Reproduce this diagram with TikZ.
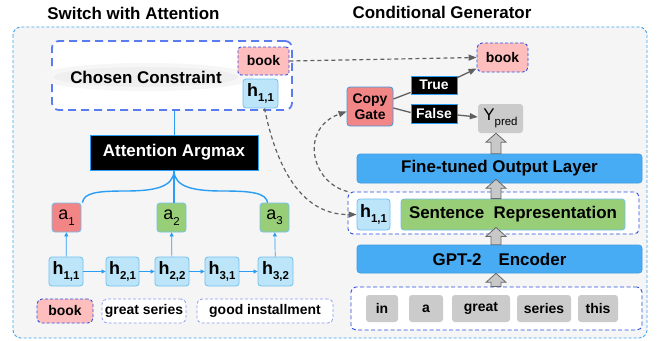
\documentclass[tikz,border=0pt]{standalone}
\usepackage{fontspec}
\setmainfont{Liberation Sans}
\usetikzlibrary{arrows.meta,calc}
\definecolor{outerblue}{HTML}{3DA5F0}
\definecolor{ccblue}{HTML}{5B7BF0}
\definecolor{darkdash}{HTML}{2B4FE0}
\definecolor{lightdash}{HTML}{8A9CF0}
\definecolor{pinkfill}{HTML}{FFBEBE}
\definecolor{hfill}{HTML}{BDE5F9}
\definecolor{hborder}{HTML}{72C0EE}
\definecolor{redfill}{HTML}{F28686}
\definecolor{greenfill}{HTML}{98CE78}
\definecolor{bluefill}{HTML}{48ACF5}
\definecolor{blueborder}{HTML}{3D9BE0}
\definecolor{graytok}{HTML}{CBCBCB}
\definecolor{bgfill}{HTML}{F5F5F5}
\definecolor{linegray}{HTML}{606060}
\definecolor{arrowfill}{HTML}{C8C8C8}
\definecolor{arrowline}{HTML}{686868}
\definecolor{bline}{HTML}{2A9DF4}
\definecolor{glowA}{HTML}{F6F6F6}
\definecolor{glowB}{HTML}{EFEFEF}
\newcommand\fbig{\fontsize{17}{19}\selectfont\bfseries}
\newcommand\fmid{\fontsize{14}{16}\selectfont\bfseries}
\newcommand\mysub[1]{\raisebox{-0.3em}{\fontsize{11.5}{12}\selectfont #1}}
\newcommand\blockarrow[2]{\path let \p1=#1, \p2=#2 in [draw=arrowline, fill=arrowfill, line width=0.8bp, line join=miter] (\x1-5bp,\y1) -- (\x1-5bp,\y2-9bp) -- (\x1-10bp,\y2-9bp) -- (\x1,\y2) -- (\x1+10bp,\y2-9bp) -- (\x1+5bp,\y2-9bp) -- (\x1+5bp,\y1) -- cycle;}
\tikzset{
  sz/.style 2 args={minimum width=#1bp, minimum height=#2bp},
  base/.style={rounded corners=3bp, inner sep=0pt, align=center},
  hnode/.style={base, draw=hborder, fill=hfill, line width=0.8bp, font=\fontsize{18}{20}\selectfont\bfseries},
  anode/.style={base, draw=hborder, line width=0.8bp, font=\fontsize{18}{20}\selectfont},
  pinkbox/.style={base, draw=darkdash, dashed, dash pattern=on 3bp off 2bp, fill=pinkfill, line width=0.9bp, font=\fmid},
  lblbox/.style={base, draw=lightdash, dash pattern=on 3bp off 2bp, fill=white, line width=0.8bp, font=\fmid},
  blackbox/.style={inner sep=0pt, draw=bline, fill=black, text=white, line width=0.8bp},
  bluebar/.style={base, draw=blueborder, fill=bluefill, line width=0.6bp, font=\fbig},
  grpbox/.style={base, rounded corners=5bp, draw=darkdash, dash pattern=on 4bp off 2.5bp, line width=0.9bp, fill=white},
  tok/.style={base, fill=graytok, font=\fmid},
  tarr/.style={draw=bline, line width=0.7bp, -{Triangle[length=4bp,width=4bp]}},
  blinest/.style={draw=bline, line width=1.4bp},
  dasharr/.style={draw=linegray, line width=1.2bp, dash pattern=on 4bp off 3bp, -{Triangle[length=8bp,width=6bp]}},
  garr/.style={draw=linegray, line width=1.3bp, -{Triangle[length=8bp,width=6bp]}},
  gline/.style={draw=linegray, line width=1.3bp},
}
\begin{document}
\begin{tikzpicture}[x=1bp,y=-1bp]
\useasboundingbox (0,0) rectangle (665,340);
\fill[white] (0,0) rectangle (665,340);
% outer frame
\draw[draw=outerblue, fill=bgfill, rounded corners=8bp, line width=0.9bp, dash pattern=on 3bp off 2bp] (13,27) rectangle (647,338);
% titles
\node[font=\fbig] (titleL) at (133.5,13) {Switch with Attention};
\node[font=\fbig] (titleR) at (442,12) {Conditional Generator};

% ---- left: switch with attention ----
\node[base, rounded corners=7bp, draw=ccblue, fill=white, line width=1.8bp, dash pattern=on 8bp off 5bp, sz={240}{69}] (cc) at (172,75.5) {};
\fill[glowA] (146,77) ellipse [x radius=108bp, y radius=14bp];
\fill[glowB] (146,77) ellipse [x radius=92bp, y radius=10bp];
\node[font=\fbig] (cct) at (146,77) {Chosen Constraint};
\node[pinkbox, sz={51}{28}] (bookL) at (263.5,61) {book};
\node[hnode, sz={35}{29}] (hL) at (260.5,93.5) {h\mysub{1,1}};

\node[blackbox, sz={168}{35}, font=\fbig] (arg) at (174,152.5) {Attention Argmax};
\draw[draw=bline, line width=1bp] (arg.north |- cc.south) -- (arg.north);

\node[anode, fill=redfill, sz={29}{29}] (a1) at (66.5,217.5) {a\mysub{1}};
\node[anode, fill=greenfill, sz={29}{29}] (a2) at (171.5,217.5) {a\mysub{2}};
\node[anode, fill=greenfill, sz={29}{29}] (a3) at (274.5,217.5) {a\mysub{3}};

\draw[blinest] (arg.south) -- (arg.south |- a2.north);
\draw[blinest] (arg.south) .. controls (174,188) and (152,191) .. (125,191) .. controls (96,191) and (84,193) .. ($(a1.north east)+(1,0)$);
\draw[blinest] (arg.south) .. controls (174,188) and (196,191) .. (223,191) .. controls (252,191) and (266,193) .. ($(a3.north west)+(8,0)$);

\node[hnode, sz={34}{29}] (h11) at (66,271.5) {h\mysub{1,1}};
\node[hnode, sz={33}{29}] (h21) at (122.5,271.5) {h\mysub{2,1}};
\node[hnode, sz={34}{29}] (h22) at (172,271.5) {h\mysub{2,2}};
\node[hnode, sz={34}{29}] (h31) at (222,271.5) {h\mysub{3,1}};
\node[hnode, sz={35}{29}] (h32) at (275.5,271.5) {h\mysub{3,2}};
\draw[tarr] (h11) -- (h21);
\draw[tarr] (h21) -- (h22);
\draw[tarr] (h22) -- (h31);
\draw[tarr] (h31) -- (h32);
\draw[tarr] (h11) -- (a1);
\draw[tarr] (h22) -- (a2);
\draw[tarr] (h32) -- (a3);

\node[pinkbox, rounded corners=5bp, sz={56}{24}] (lbook) at (65,311) {book};
\node[lblbox, rounded corners=5bp, sz={84}{24}] (lgreat) at (144,311) {great series};
\node[lblbox, rounded corners=5bp, sz={136}{24}] (lgood) at (265,311) {good installment};

% ---- right: conditional generator ----
\node[pinkbox, rounded corners=5bp, sz={51}{29}] (bookR) at (502.5,57.5) {book};
\node[base, draw=blueborder, fill=redfill, line width=0.8bp, sz={46}{39}, font=\fmid] (gate) at (370,106.5) {Copy\\Gate};
\node[blackbox, sz={46}{18}, font=\fmid] (trueL) at (434,85) {True};
\node[blackbox, sz={46}{19}, font=\fmid] (falseL) at (434,113.5) {False};
\node[base, fill=graytok, sz={45}{29}, font=\fontsize{17}{19}\selectfont] (ypred) at (500.5,118.5) {Y\mysub{pred}};

\node[bluebar, sz={285}{29}] (fine) at (499.5,168.5) {Fine-tuned Output Layer};
\node[grpbox, sz={291}{42}] (grp) at (493.5,213) {};
\node[hnode, sz={33}{31}] (hR) at (373.5,214.5) {h\mysub{1,1}};
\node[base, draw=hborder, fill=greenfill, line width=0.8bp, sz={224}{31}, font=\fbig] (sent) at (513,214.5) {Sentence\ \ Representation};
\node[bluebar, sz={285}{28}] (gpt) at (499.5,259) {GPT-2\hspace{17bp}Encoder};
\node[grpbox, sz={291}{43}] (inp) at (496.5,308.5) {};
\node[tok, sz={32}{27}] (t1) at (382,308.5) {in};
\node[tok, sz={34}{27}] (t2) at (426,308.5) {a};
\node[tok, sz={58}{27}] (t3) at (481,308.5) {great};
\node[tok, sz={54}{27}] (t4) at (544,308.5) {series};
\node[tok, sz={40}{27}] (t5) at (598,308.5) {this};

% block arrows
\coordinate (ax) at (496,0);
\blockarrow{(ax |- inp.north)}{(ax |- gpt.south)}
\blockarrow{(ax |- gpt.north)}{($(ax |- sent.south)+(0,-3)$)}
\blockarrow{(ax |- sent.north)}{($(ax |- fine.south)+(0,-4)$)}
\blockarrow{(ax |- fine.north)}{(ax |- ypred.south)}

% gate connections
\draw[gline] ($(gate.east)+(0,-7.5)$) -- ($(trueL.south west)+(0,-2)$);
\draw[garr] ($(trueL.north east)+(0,2)$) -- ($(bookR.south west)+(0,-4)$);
\draw[gline] ($(gate.east)+(0,1.5)$) -- ($(falseL.west)+(0,-1)$);
\draw[garr] ($(falseL.east)+(0,1.5)$) -- ($(ypred.west)+(0,-1.5)$);

% dashed connectors
\draw[dasharr] (bookL.east) -- (bookR.west);
\draw[dasharr] ($(hL.south)+(4,0)$) .. controls (276,165) and (300,215) .. (hR.west);
\draw[dasharr] (grp.north west) .. controls (310,182) and (300,128) .. ($(gate.west)+(0,5)$);
\end{tikzpicture}
\end{document}
